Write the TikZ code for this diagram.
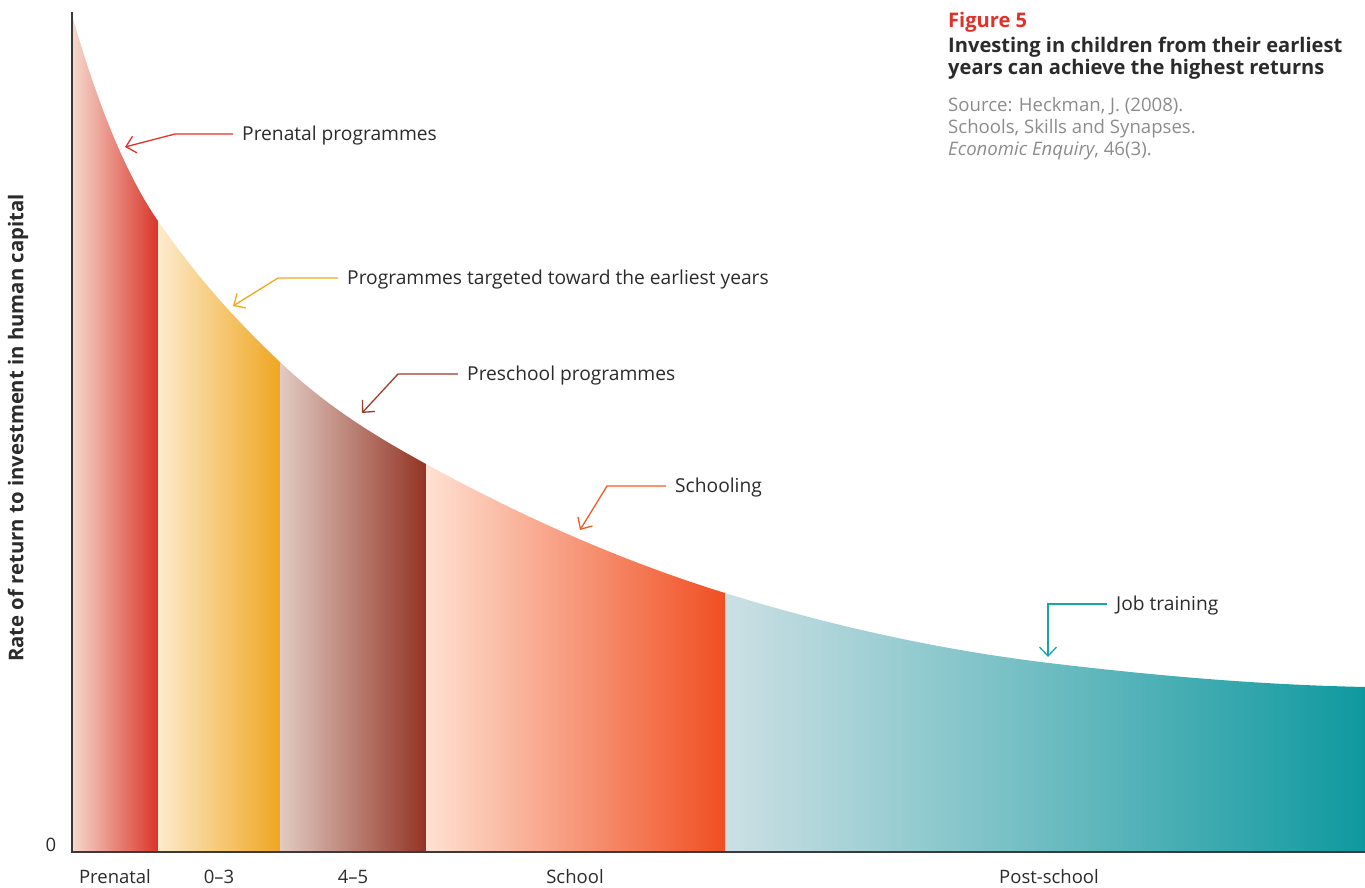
\documentclass[tikz,border=0pt]{standalone}
\usepackage{fontspec}
\setmainfont{Open Sans}
\usetikzlibrary{arrows.meta}
\definecolor{axisgray}{HTML}{3A3A3A}
\definecolor{txt}{HTML}{2B2B2B}
\definecolor{srcgray}{HTML}{8C8C8C}
\definecolor{figred}{HTML}{E0312A}
\definecolor{prenatL}{HTML}{F6D9CD}
\definecolor{prenatR}{HTML}{DA3328}
\definecolor{earlyL}{HTML}{FDEBCD}
\definecolor{earlyR}{HTML}{EFA620}
\definecolor{preL}{HTML}{E2CBC2}
\definecolor{preR}{HTML}{923324}
\definecolor{schL}{HTML}{FEE1D2}
\definecolor{schR}{HTML}{F04E22}
\definecolor{postL}{HTML}{CCE0E4}
\definecolor{postR}{HTML}{0E999F}
\definecolor{arrRed}{HTML}{E0332B}
\definecolor{arrOrange}{HTML}{F2A71B}
\definecolor{arrBrown}{HTML}{9E3A2C}
\definecolor{arrSchool}{HTML}{F15A24}
\definecolor{arrTeal}{HTML}{1BA3AB}
\begin{document}
\begin{tikzpicture}[x=1pt,y=-1pt,
  lbl/.style={anchor=west, inner xsep=9pt, inner ysep=0pt, text height=12pt, text depth=0pt,
    font=\fontsize{19.2}{22}\selectfont, text=txt},
  conn/.style={line width=1.3pt, -{Straight Barb[length=9pt,width=17pt,line width=1.3pt]}},
  axislbl/.style={anchor=base, inner sep=0pt, font=\fontsize{18.5}{22}\selectfont, text=txt},
  titleline/.style={anchor=base west, inner sep=0pt, font=\bfseries\fontsize{20.1}{22}\selectfont, text=txt},
  srcline/.style={anchor=base west, inner sep=0pt, font=\fontsize{18.6}{20}\selectfont, text=srcgray},
  axisline/.style={draw=axisgray, line width=2pt}
]
\useasboundingbox (0,0) rectangle (1365,888);
% bands under the curve
\begin{scope}
  \clip (72,852) -- (72,15)
    .. controls (100.67,115.3) and (129.33,179.4) .. (158,221)
    .. controls (198.67,280) and (239.33,323.4) .. (280,362)
    .. controls (328.67,408.2) and (377.33,437.2) .. (426,464)
    .. controls (525.67,518.8) and (625.33,562.1) .. (725,593)
    .. controls (833,626.5) and (941,650) .. (1049,663)
    .. controls (1154.33,675.6) and (1259.67,684.9) .. (1366,687)
    -- (1366,852) -- cycle;
  \shade[left color=prenatL, right color=prenatR] (72,0) rectangle (158.6,852);
  \shade[left color=earlyL, right color=earlyR] (158,0) rectangle (280.6,852);
  \shade[left color=preL, right color=preR] (280,0) rectangle (426.6,852);
  \shade[left color=schL, right color=schR] (426,0) rectangle (725.6,852);
  \shade[left color=postL, right color=postR] (725,0) rectangle (1366,852);
\end{scope}
% axes
\draw[axisline] (72,12) -- (72,852) -- (1366,852);
\node[rotate=90, inner sep=0pt, font=\bfseries\fontsize{20.3}{22}\selectfont, text=txt] (ylab) at (18,428)
  {Rate of return to investment in human capital};
\node[inner sep=0pt, font=\fontsize{18.5}{22}\selectfont, text=txt] (zero) at (51,845) {0};
% x labels
\node[axislbl] (xPrenatal) at (115,883) {Prenatal};
\node[axislbl] (x03) at (219,883) {0--3};
\node[axislbl] (x45) at (353,883) {4--5};
\node[axislbl] (xSchool) at (575,883) {School};
\node[axislbl] (xPost) at (1049,883) {Post-school};
% callouts
\node[lbl] (lPrenatal) at (233,134) {Prenatal programmes};
\coordinate (ePrenatal) at (175,134);
\coordinate (tPrenatal) at (125,147);
\draw[conn, draw=arrRed] (lPrenatal.west) -- (ePrenatal) -- (tPrenatal);

\node[lbl] (lEarly) at (338,278) {Programmes targeted toward the earliest years};
\coordinate (eEarly) at (278,278);
\coordinate (tEarly) at (233,306);
\draw[conn, draw=arrOrange] (lEarly.west) -- (eEarly) -- (tEarly);

\node[lbl] (lPre) at (458,374) {Preschool programmes};
\coordinate (ePre) at (398,374);
\coordinate (tPre) at (362,413);
\draw[conn, draw=arrBrown] (lPre.west) -- (ePre) -- (tPre);

\node[lbl] (lSchool) at (666,486) {Schooling};
\coordinate (eSchool) at (607,486);
\coordinate (tSchool) at (580,530);
\draw[conn, draw=arrSchool] (lSchool.west) -- (eSchool) -- (tSchool);

\node[lbl] (lJob) at (1107,604) {Job training};
\coordinate (eJob) at (1048,604);
\coordinate (tJob) at (1048,657);
\draw[conn, draw=arrTeal] (lJob.west) -- (eJob) -- (tJob);
% title block
\node[titleline, text=figred] (fig) at (948,28) {Figure 5};
\node[titleline] (title1) at (948,53) {Investing in children from their earliest};
\node[titleline] (title2) at (948,75) {years can achieve the highest returns};
\node[srcline] (src1) at (948,112) {Source: Heckman, J. (2008).};
\node[srcline] (src2) at (948,134) {Schools, Skills and Synapses.};
\node[srcline] (src3) at (948,156) {\textit{Economic Enquiry}, 46(3).};
\end{tikzpicture}
\end{document}
